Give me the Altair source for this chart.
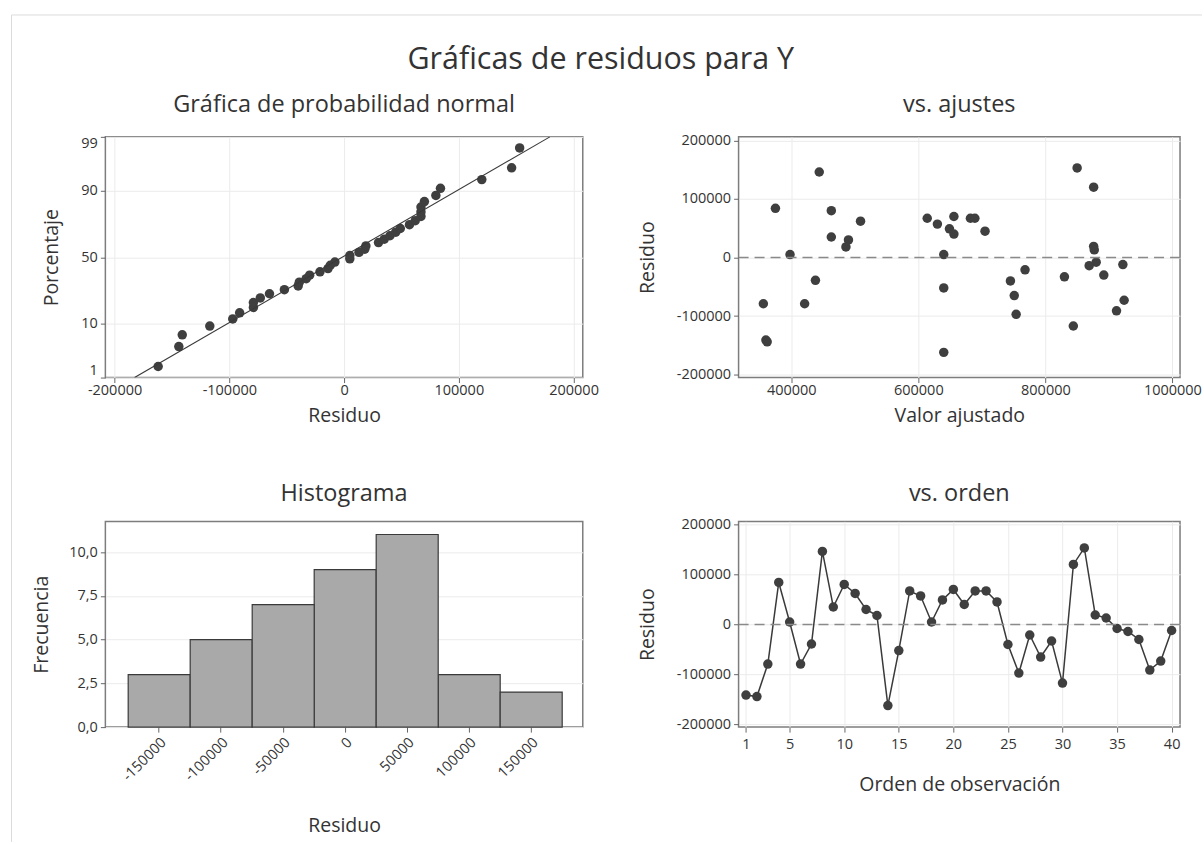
import altair as alt
import pandas as pd
from statistics import NormalDist, mean, stdev

# Residuals and fitted values, listed in observation order 1..40
orden = list(range(1, 41))
residuo = [-141000, -144000, -79000, 84000, 5000, -79000, -39000, 146000, 35000, 80000,
           62000, 30000, 18000, -162000, -52000, 67000, 57000, 5000, 49000, 70000,
           40000, 67000, 67000, 45000, -40000, -97000, -21000, -65000, -33000, -117000,
           120000, 153000, 19000, 13000, -8000, -14000, -30000, -91000, -73000, -12000]
ajustado = [360000, 362000, 356000, 375000, 398000, 421000, 438000, 444000, 463000, 463000,
            509000, 490000, 486000, 640000, 640000, 614000, 630000, 640000, 649000, 656000,
            656000, 682000, 689000, 705000, 745000, 754000, 768000, 751000, 830000, 844000,
            876000, 850000, 876000, 877000, 880000, 869000, 892000, 912000, 924000, 922000]

# Axis tick values
porcentajes = [1, 10, 50, 90, 99]
ticks_residuo = [-200000, -100000, 0, 100000, 200000]
ticks_ajuste = [400000, 600000, 800000, 1000000]
ticks_hist = [-150000, -100000, -50000, 0, 50000, 100000, 150000]
ticks_frec = [0, 2.5, 5, 7.5, 10]
ticks_orden = [1, 5, 10, 15, 20, 25, 30, 35, 40]

FONT = "Open Sans"
TXT = "#333333"
PT = "#3f3f3f"
TAM_PUNTO = 90

W1, W2 = 478, 442
H1, H2 = 241, 206

nd = NormalDist()
n = len(residuo)

# Normal probability plot: median-rank plotting positions on a normal-score axis
ordenados = sorted(residuo)
zpos = [nd.inv_cdf((i - 0.3) / (n + 0.4)) for i in range(1, n + 1)]
zmax = nd.inv_cdf(0.99)
zticks = [nd.inv_cdf(p / 100) for p in porcentajes]
mu, sd = mean(residuo), stdev(residuo)
df_norm = pd.DataFrame({"residuo": ordenados, "z": zpos})
df_recta = pd.DataFrame({"residuo": [mu - sd * zmax, mu + sd * zmax], "z": [-zmax, zmax]})
df_obs = pd.DataFrame({"orden": orden, "residuo": residuo, "ajustado": ajustado})
df_cero = pd.DataFrame({"residuo": [0]})

ENTERO = "replace(format(datum.value, 'd'), '\u2212', '-')"


def eje(**kw):
    base = dict(labelFont=FONT, labelFontSize=14.5, labelColor=TXT,
                titleFont=FONT, titleFontSize=19.5, titleFontWeight="normal",
                titleColor=TXT, tickColor="#666666", tickSize=5, tickWidth=1,
                gridColor="#ebebeb", gridWidth=1, domain=False, labelPadding=3)
    base.update(kw)
    return alt.Axis(**base)


def titulo(texto, ancho, y):
    return alt.Chart(pd.DataFrame({"t": [texto]})).mark_text(
        font=FONT, fontSize=23.5, color=TXT, align="center", baseline="alphabetic"
    ).encode(text="t:N", x=alt.value(ancho / 2), y=alt.value(y))


lbl_pct = ("datum.value < -2 ? '1' : datum.value < -1 ? '10' : "
           "datum.value < 1 ? '50' : datum.value < 2 ? '90' : '99'")

# --- Normal probability plot
x_norm = alt.X("residuo:Q", scale=alt.Scale(domain=[-208000, 208000], nice=False, zero=False),
               axis=eje(values=ticks_residuo, labelExpr=ENTERO, title="Residuo",
                        labelPadding=1, titlePadding=9))
y_norm = alt.Y("z:Q", scale=alt.Scale(domain=[-zmax, zmax], nice=False, zero=False),
               axis=eje(values=zticks, labelExpr=lbl_pct, labelFlush=4,
                        title="Porcentaje", titlePadding=19))
puntos_norm = alt.Chart(df_norm).mark_circle(size=TAM_PUNTO, color=PT, opacity=1).encode(
    x=x_norm, y=y_norm)
recta = alt.Chart(df_recta).mark_line(color="#3a3a3a", strokeWidth=1.1, clip=True).encode(
    x="residuo:Q", y="z:Q")

# outer frame and main heading
marco_h = alt.Chart(pd.DataFrame({"k": [0]})).mark_rule(color="#dcdcdc", strokeWidth=1).encode(
    x=alt.value(-94), x2=alt.value(1098), y=alt.value(-122))
marco_v = alt.Chart(pd.DataFrame({"k": [0]})).mark_rule(color="#dcdcdc", strokeWidth=1).encode(
    x=alt.value(-94), y=alt.value(-122), y2=alt.value(706))
encabezado = alt.Chart(pd.DataFrame({"t": ["Gráficas de residuos para Y"]})).mark_text(
    font=FONT, fontSize=30.5, color=TXT, align="center", baseline="alphabetic"
).encode(text="t:N", x=alt.value(600 - 104), y=alt.value(-68))

p1 = alt.layer(marco_h, marco_v, encabezado, puntos_norm, recta,
               titulo("Gráfica de probabilidad normal", W1, -25)).properties(width=W1, height=H1)

# --- Residuals vs fitted values
y_res = alt.Y("residuo:Q", scale=alt.Scale(domain=[-205000, 206000], nice=False, zero=False),
              axis=eje(values=ticks_residuo, labelExpr=ENTERO, title="Residuo", titlePadding=19))
x_aj = alt.X("ajustado:Q", scale=alt.Scale(domain=[317000, 1012000], nice=False, zero=False),
             axis=eje(values=ticks_ajuste, labelExpr=ENTERO, title="Valor ajustado",
                      labelPadding=1, titlePadding=9))
cero = alt.Chart(df_cero).mark_rule(color="#8a8a8a", strokeWidth=1.5, strokeDash=[10, 6]).encode(
    y="residuo:Q")
puntos_aj = alt.Chart(df_obs).mark_circle(size=TAM_PUNTO, color=PT, opacity=1).encode(
    x=x_aj, y=y_res)
p2 = alt.layer(puntos_aj, cero, titulo("vs. ajustes", W2, -25)).properties(width=W2, height=H1)

# --- Histogram of residuals (bins of width 50000 centred on the tick values)
x_hist = alt.X("residuo:Q",
               bin=alt.Bin(extent=[-175000, 175000], step=50000, anchor=-175000, nice=False),
               scale=alt.Scale(domain=[-193000, 192000], nice=False, zero=False),
               axis=eje(values=ticks_hist, labelExpr=ENTERO, labelAngle=315, title="Residuo",
                        titlePadding=33))
y_hist = alt.Y("count():Q", scale=alt.Scale(domain=[0, 11.75], nice=False),
               axis=eje(values=ticks_frec, labelExpr="replace(format(datum.value, '.1f'), '.', ',')",
                        title="Frecuencia", titlePadding=17))
barras = alt.Chart(df_obs).mark_bar(color="#a9a9a9", stroke="#3a3a3a", strokeWidth=1.2,
                                    binSpacing=0).encode(x=x_hist, y=y_hist)
p3 = alt.layer(barras, titulo("Histograma", W1, -20)).properties(width=W1, height=H2)

# --- Residuals vs observation order
x_ord = alt.X("orden:Q", scale=alt.Scale(domain=[0.32, 40.77], nice=False, zero=False),
              axis=eje(values=ticks_orden, title="Orden de observación", titlePadding=25,
                       labelPadding=5))
linea_ord = alt.Chart(df_obs).mark_line(color="#3a3a3a", strokeWidth=1.5).encode(x=x_ord, y=y_res)
puntos_ord = alt.Chart(df_obs).mark_circle(size=TAM_PUNTO, color=PT, opacity=1).encode(
    x=x_ord, y=y_res)
p4 = alt.layer(linea_ord, puntos_ord, cero, titulo("vs. orden", W2, -20)).properties(
    width=W2, height=H2)

chart = alt.concat(
    p1, p2, p3, p4, columns=2, spacing={"row": 144, "column": 156},
    bounds="flush", align="each"
).properties(
    padding={"left": 9.5, "top": 12.5, "right": 0, "bottom": 0},
    background="white"
).configure_view(
    stroke="#7d7d7d", strokeWidth=1.5
)

chart.save("out.html", embed_options={"renderer": "svg", "actions": False})
